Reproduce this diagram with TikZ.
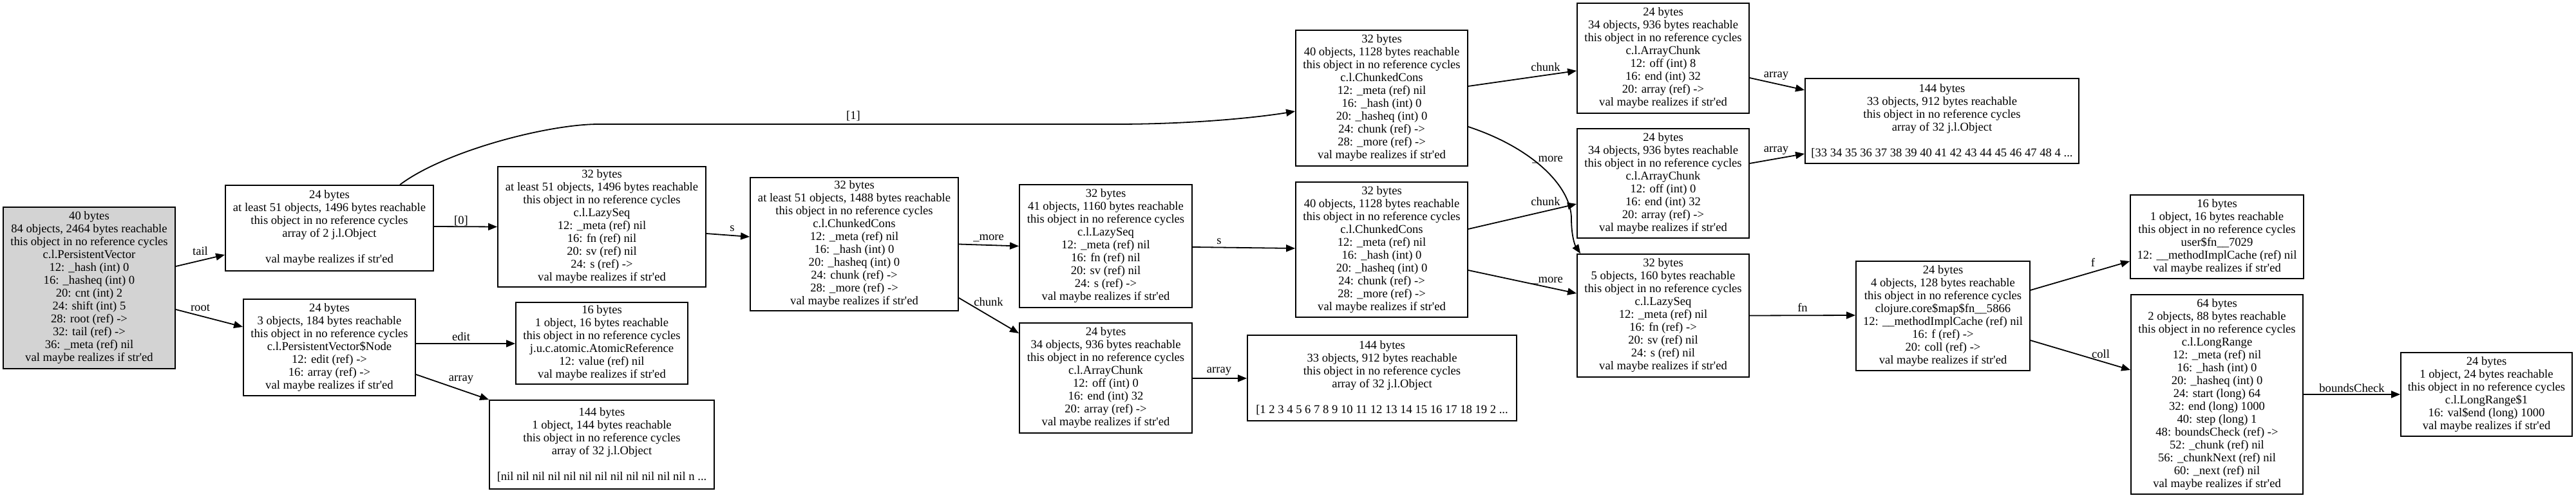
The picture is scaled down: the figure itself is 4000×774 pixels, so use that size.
\documentclass[tikz,border=0pt]{standalone}
\usepackage{fontspec}
\setmainfont{Liberation Serif}
\usetikzlibrary{arrows.meta,calc}
\definecolor{gvgray}{RGB}{211,211,211}
\newcommand\vmr{val maybe realizes if str\textquotesingle ed}
\newcommand\noc{this object in no reference cycles}
\begin{document}
\begin{tikzpicture}[x=0.5pt,y=-0.5pt,
  obj/.style 2 args={draw=black, line width=0.9pt, align=center, inner sep=0pt,
    font=\fontsize{9.3}{10}\selectfont, minimum width=#1*0.5pt, minimum height=#2*0.5pt},
  lbl/.style={font=\fontsize{9.3}{10}\selectfont, inner sep=0pt},
  edge/.style={line width=0.9pt, -{Triangle[length=7pt,width=5.5pt]}}]
\useasboundingbox (0,0) rectangle (4000,774);

\node[obj={267}{251}, fill=gvgray] (n1) at (138.5,447.5) {40 bytes\\84 objects, 2464 bytes reachable\\\noc\\c.l.PersistentVector\\12: \_hash (int) 0\\16: \_hasheq (int) 0\\20: cnt (int) 2\\24: shift (int) 5\\28: root (ref) ->\\32: tail (ref) ->\\36: \_meta (ref) nil\\\vmr};

\node[obj={323}{133}] (n2) at (511.5,354.5) {24 bytes\\at least 51 objects, 1496 bytes reachable\\\noc\\array of 2 j.l.Object\\[10pt]\vmr};

\node[obj={267}{150}] (n3) at (511.5,540) {24 bytes\\3 objects, 184 bytes reachable\\\noc\\c.l.PersistentVector\$Node\\12: edit (ref) ->\\16: array (ref) ->\\\vmr};

\node[obj={323}{187}] (n4) at (934.5,352.5) {32 bytes\\at least 51 objects, 1496 bytes reachable\\\noc\\c.l.LazySeq\\12: \_meta (ref) nil\\16: fn (ref) nil\\20: sv (ref) nil\\24: s (ref) ->\\\vmr};

\node[obj={267}{127}] (n5) at (934.5,533.5) {16 bytes\\1 object, 16 bytes reachable\\\noc\\j.u.c.atomic.AtomicReference\\12: value (ref) nil\\\vmr};

\node[obj={349}{138}] (n6) at (934.5,691) {144 bytes\\1 object, 144 bytes reachable\\\noc\\array of 32 j.l.Object\\[10pt]{[}nil nil nil nil nil nil nil nil nil nil nil nil n ...};

\node[obj={323}{207}] (n7) at (1326.5,379.5) {32 bytes\\at least 51 objects, 1488 bytes reachable\\\noc\\c.l.ChunkedCons\\12: \_meta (ref) nil\\16: \_hash (int) 0\\20: \_hasheq (int) 0\\24: chunk (ref) ->\\28: \_more (ref) ->\\\vmr};

\node[obj={268}{191}] (n8) at (1717,382.5) {32 bytes\\41 objects, 1160 bytes reachable\\\noc\\c.l.LazySeq\\12: \_meta (ref) nil\\16: fn (ref) nil\\20: sv (ref) nil\\24: s (ref) ->\\\vmr};

\node[obj={268}{171}] (n9) at (1717,587.5) {24 bytes\\34 objects, 936 bytes reachable\\\noc\\c.l.ArrayChunk\\12: off (int) 0\\16: end (int) 32\\20: array (ref) ->\\\vmr};

\node[obj={418}{133}] (n10) at (2146,587.5) {144 bytes\\33 objects, 912 bytes reachable\\\noc\\array of 32 j.l.Object\\[10pt]{[}1 2 3 4 5 6 7 8 9 10 11 12 13 14 15 16 17 18 19 2 ...};

\node[obj={267}{211}] (n11) at (2145.5,152.5) {32 bytes\\40 objects, 1128 bytes reachable\\\noc\\c.l.ChunkedCons\\12: \_meta (ref) nil\\16: \_hash (int) 0\\20: \_hasheq (int) 0\\24: chunk (ref) ->\\28: \_more (ref) ->\\\vmr};

\node[obj={267}{210}] (n12) at (2145.5,388) {32 bytes\\40 objects, 1128 bytes reachable\\\noc\\c.l.ChunkedCons\\12: \_meta (ref) nil\\16: \_hash (int) 0\\20: \_hasheq (int) 0\\24: chunk (ref) ->\\28: \_more (ref) ->\\\vmr};

\node[obj={267}{171}] (n13) at (2582.5,90.5) {24 bytes\\34 objects, 936 bytes reachable\\\noc\\c.l.ArrayChunk\\12: off (int) 8\\16: end (int) 32\\20: array (ref) ->\\\vmr};

\node[obj={267}{170}] (n14) at (2582.5,285) {24 bytes\\34 objects, 936 bytes reachable\\\noc\\c.l.ArrayChunk\\12: off (int) 0\\16: end (int) 32\\20: array (ref) ->\\\vmr};

\node[obj={425}{132}] (n15) at (3015.5,188) {144 bytes\\33 objects, 912 bytes reachable\\\noc\\array of 32 j.l.Object\\[10pt]{[}33 34 35 36 37 38 39 40 41 42 43 44 45 46 47 48 4 ...};

\node[obj={267}{191}] (n16) at (2582.5,490.5) {32 bytes\\5 objects, 160 bytes reachable\\\noc\\c.l.LazySeq\\12: \_meta (ref) nil\\16: fn (ref) ->\\20: sv (ref) nil\\24: s (ref) nil\\\vmr};

\node[obj={270}{170}] (n17) at (3017,491) {24 bytes\\4 objects, 128 bytes reachable\\\noc\\clojure.core\$map\$fn\_\_5866\\12: \_\_methodImplCache (ref) nil\\16: f (ref) ->\\20: coll (ref) ->\\\vmr};

\node[obj={269}{130}] (n18) at (3442.5,368) {16 bytes\\1 object, 16 bytes reachable\\\noc\\user\$fn\_\_7029\\12: \_\_methodImplCache (ref) nil\\\vmr};

\node[obj={267}{310}] (n19) at (3442.5,613) {64 bytes\\2 objects, 88 bytes reachable\\\noc\\c.l.LongRange\\12: \_meta (ref) nil\\16: \_hash (int) 0\\20: \_hasheq (int) 0\\24: start (long) 64\\32: end (long) 1000\\40: step (long) 1\\48: boundsCheck (ref) ->\\52: \_chunk (ref) nil\\56: \_chunkNext (ref) nil\\60: \_next (ref) nil\\\vmr};

\node[obj={266}{130}] (n20) at (3861,613) {24 bytes\\1 object, 24 bytes reachable\\\noc\\c.l.LongRange\$1\\16: val\$end (long) 1000\\\vmr};

% edges
\draw[edge] ($(n1.east)+(0,-33.5)$) -- ($(n2.west)+(0,41.5)$) node[lbl] at (311,390) {tail};
\draw[edge] ($(n1.east)+(0,33.5)$) -- ($(n3.west)+(0,-32)$) node[lbl] at (311,478) {root};
\draw[edge] ($(n2.east)+(0,-2.5)$) -- ($(n4.west)+(0,0)$) node[lbl] at (716,343) {[0]};
\draw[edge] ($(n2.north)+(109.5,0)$) .. controls (690,235) and (850,193) .. (930,193) -- (1734,193) .. controls (1850,193) and (1950,183) .. ($(n11.west)+(0,20.5)$) node[lbl] at (1325,180) {[1]};
\draw[edge] ($(n4.east)+(0,10.5)$) -- ($(n7.west)+(0,-11.5)$) node[lbl] at (1137,355) {s};
\draw[edge] ($(n3.east)+(0,-6)$) -- ($(n5.west)+(0,0.5)$) node[lbl] at (716,523) {edit};
\draw[edge] ($(n3.east)+(0,42)$) -- (n6.north west) node[lbl] at (716,590) {array};
\draw[edge] ($(n7.east)+(0,0)$) -- ($(n8.west)+(0,0)$) node[lbl] at (1535,370) {\_more};
\draw[edge] ($(n7.east)+(0,83.5)$) -- ($(n9.west)+(0,-69.5)$) node[lbl] at (1535,469) {chunk};
\draw[edge] ($(n8.east)+(0,1.5)$) -- ($(n12.west)+(0,-2)$) node[lbl] at (1893,375) {s};
\draw[edge] ($(n9.east)+(0,0.5)$) -- ($(n10.west)+(0,0.5)$) node[lbl] at (1893,577) {array};
\draw[edge] ($(n11.east)+(0,-18.5)$) -- ($(n13.west)+(0,19.5)$) node[lbl] at (2400,104) {chunk};
\draw[edge] ($(n11.east)+(0,44.5)$) .. controls (2380,230) and (2440,290) .. (2440,340) .. controls (2440,368) and (2446,382) .. ($(n16.north west)+(6,0)$) node[lbl] at (2403,248) {\_more};
\draw[edge] ($(n12.east)+(0,-32)$) -- ($(n14.west)+(0,32)$) node[lbl] at (2400,313) {chunk};
\draw[edge] ($(n12.east)+(0,32)$) -- ($(n16.west)+(0,-34.5)$) node[lbl] at (2403,436) {\_more};
\draw[edge] ($(n13.east)+(0,30.5)$) -- ($(n15.west)+(0,-48)$) node[lbl] at (2758,118) {array};
\draw[edge] ($(n14.east)+(0,-31)$) -- ($(n15.west)+(0,51)$) node[lbl] at (2758,234) {array};
\draw[edge] ($(n16.east)+(0,0)$) -- ($(n17.west)+(0,-1)$) node[lbl] at (2799,478) {fn};
\draw[edge] ($(n17.east)+(0,-40)$) -- ($(n18.west)+(0,38)$) node[lbl] at (3250,408) {f};
\draw[edge] ($(n17.east)+(0,38)$) -- ($(n19.west)+(0,-38)$) node[lbl] at (3262,550) {coll};
\draw[edge] ($(n19.east)+(0,0)$) -- ($(n20.west)+(0,0)$) node[lbl] at (3652,603) {boundsCheck};
\end{tikzpicture}
\end{document}
